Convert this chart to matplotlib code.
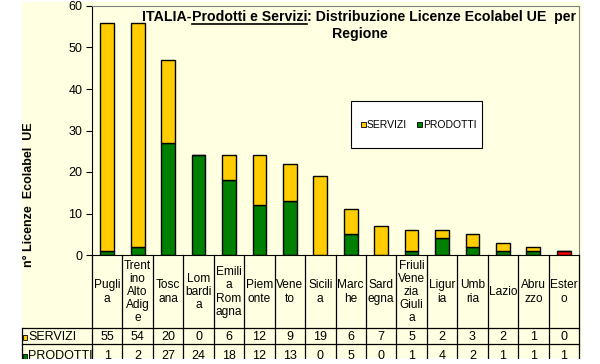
import matplotlib
matplotlib.use('Agg')
import matplotlib.pyplot as plt
from matplotlib.patches import Rectangle
from matplotlib.lines import Line2D
import matplotlib.transforms as mtransforms

plt.rcParams['font.family'] = ['Liberation Sans', 'DejaVu Sans']

# Data
regions = ['Pugli\na', 'Trent\nino\nAlto\nAdig\ne', 'Tosc\nana', 'Lom\nbardi\na',
           'Emili\na\nRom\nagna', 'Piem\nonte', 'Vene\nto', 'Sicili\na', 'Marc\nhe',
           'Sard\negna', 'Friuli\nVene\nzia\nGiuli\na', 'Ligur\nia', 'Umb\nria',
           'Lazio', 'Abru\nzzo', 'Ester\no']
servizi = [55, 54, 20, 0, 6, 12, 9, 19, 6, 7, 5, 2, 3, 2, 1, 0]
prodotti = [1, 2, 27, 24, 18, 12, 13, 0, 5, 0, 1, 4, 2, 1, 1, 1]
yticks = [0, 10, 20, 30, 40, 50, 60]

bg = '#FFFFE1'
yellow = '#FFCC00'
green = '#008000'
red = '#FF0000'

W, H = 600, 364
fig = plt.figure(figsize=(6, 3.64), dpi=100, facecolor='white')


def fx(x):
    return x / W


def fy(y):
    return 1 - y / H


# light yellow chart area
fig.patches.append(Rectangle((fx(22), fy(358)), fx(582) - fx(22), fy(2) - fy(358),
                             transform=fig.transFigure, facecolor=bg, edgecolor='none', zorder=-5))

ax = fig.add_axes([fx(92), fy(255), fx(579) - fx(92), fy(6) - fy(255)])
ax.set_facecolor(bg)
n = len(regions)
x = list(range(n))
prod_colors = [green] * (n - 1) + [red]
ax.bar(x, prodotti, width=0.45, color=prod_colors, edgecolor='black', linewidth=1)
ax.bar(x, servizi, width=0.45, bottom=prodotti, color=yellow, edgecolor='black', linewidth=1)
ax.set_xlim(-0.5, n - 0.5)
ax.set_ylim(0, 60)
ax.set_yticks(yticks)
ax.tick_params(axis='y', direction='out', length=4, labelsize=9, pad=3)
ax.set_xticks([])
for s in ['top', 'right']:
    ax.spines[s].set_color('#808080')
ax.spines['left'].set_color('black')
ax.spines['bottom'].set_color('black')

ax.text(fx(29), fy(195), 'n° Licenze  Ecolabel  UE', rotation=90, fontsize=9,
        fontweight='bold', ha='center', va='center', transform=fig.transFigure)

# data table
tr = mtransforms.blended_transform_factory(ax.transData, fig.transFigure)
for i in range(n + 1):
    fig.lines.append(Line2D([i - 0.5, i - 0.5], [fy(255), fy(360)], color='black',
                            linewidth=0.9, transform=tr))
fig.lines.append(Line2D([fx(22), fx(22)], [fy(328), fy(360)], color='black',
                        linewidth=0.9, transform=fig.transFigure))
for yy in [328, 344]:
    fig.lines.append(Line2D([fx(22), fx(579)], [fy(yy), fy(yy)], color='black',
                            linewidth=0.9, transform=fig.transFigure))

for i, lab in enumerate(regions):
    fig.text(i, fy(292), lab, transform=tr, ha='center', va='center', fontsize=8.6,
             linespacing=1.12)
    fig.text(i, fy(337), str(servizi[i]), transform=tr, ha='center', va='center', fontsize=9)
    fig.text(i, fy(356), str(prodotti[i]), transform=tr, ha='center', va='center', fontsize=9)

for yc, lab, col in [(337, 'SERVIZI', yellow), (356, 'PRODOTTI', green)]:
    fig.patches.append(Rectangle((fx(23), fy(yc + 2.5)), fx(4), 5 / H, transform=fig.transFigure,
                                 facecolor=col, edgecolor='black', linewidth=0.6))
    fig.text(fx(28), fy(yc), lab, ha='left', va='center', fontsize=9)

# cover the clipped bottom / sides
fig.patches.append(Rectangle((0, 0), 1, fy(358.5), transform=fig.transFigure,
                             facecolor='white', edgecolor='none', zorder=20))

# legend
fig.patches.append(Rectangle((fx(351), fy(148)), fx(131), 47 / H, transform=fig.transFigure,
                             facecolor='white', edgecolor='black', linewidth=0.8, zorder=5))
for x0, lab, col in [(361, 'SERVIZI', yellow), (417, 'PRODOTTI', green)]:
    fig.patches.append(Rectangle((fx(x0), fy(127)), fx(5), 5 / H, transform=fig.transFigure,
                                 facecolor=col, edgecolor='black', linewidth=0.6, zorder=6))
    fig.text(fx(x0 + 6), fy(124.5), lab, ha='left', va='center', fontsize=7.5, zorder=6)

# title with underlined part
fig.canvas.draw()
renderer = fig.canvas.get_renderer()
parts = ['ITALIA-', 'Prodotti e Servizi', ': Distribuzione Licenze Ecolabel UE  per']
texts = []
for p in parts:
    t = fig.text(0, fy(17), p, fontsize=10.2, fontweight='bold', ha='left', va='center')
    texts.append(t)
widths = [t.get_window_extent(renderer).width for t in texts]
x0 = 359 - sum(widths) / 2
for t, w in zip(texts, widths):
    t.set_x(fx(x0))
    if t.get_text() == parts[1]:
        fig.lines.append(Line2D([fx(x0), fx(x0 + w)], [fy(23.5), fy(23.5)], color='black',
                                linewidth=1.2, transform=fig.transFigure))
    x0 += w
fig.text(fx(360), fy(34), 'Regione', fontsize=10.2, fontweight='bold', ha='center', va='center')

fig.savefig('out.png', dpi=100, facecolor='white')
